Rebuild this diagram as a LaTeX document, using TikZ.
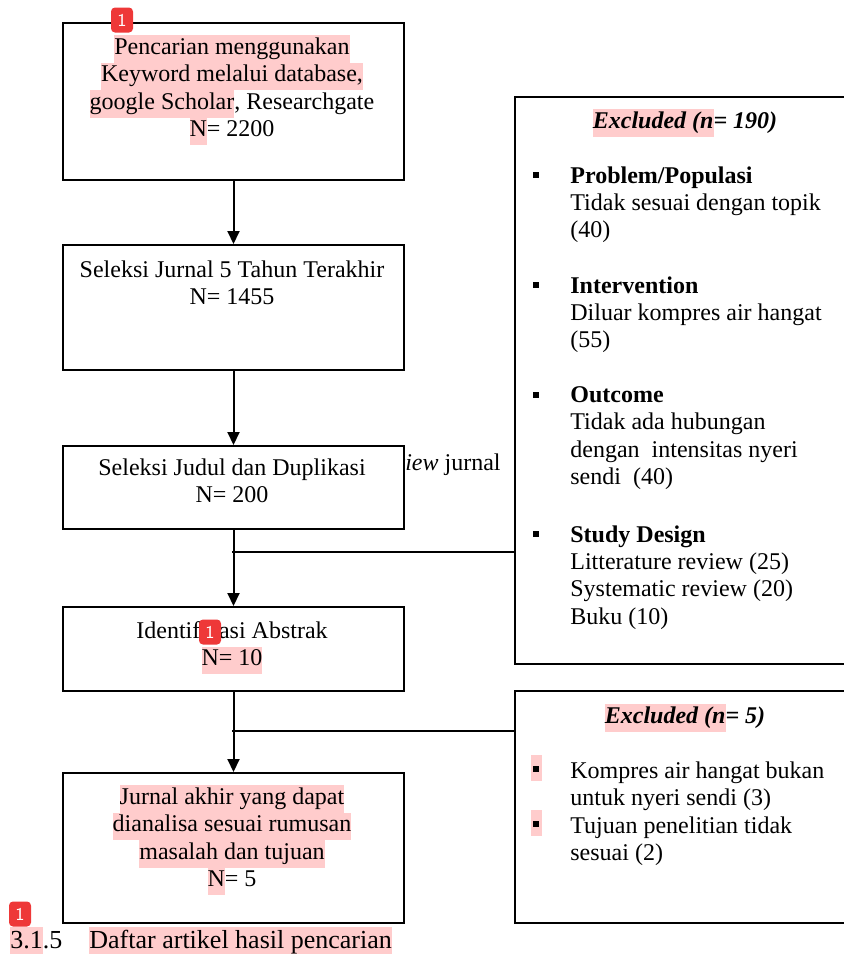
\documentclass[tikz,border=0pt]{standalone}
\usepackage{fontspec}
\setmainfont{Liberation Serif}
\usetikzlibrary{arrows.meta}

\definecolor{hlpink}{RGB}{255,204,204}
\definecolor{markred}{RGB}{238,56,56}
\newcommand{\hl}[1]{{\setlength{\fboxsep}{0pt}\colorbox{hlpink}{\strut #1}}}

\tikzset{
  box/.style={draw, line width=1pt, fill=white, inner sep=0pt, anchor=north west},
  txt/.style={align=center, inner sep=0pt, anchor=north, font=\fontsize{12}{13.7}\selectfont},
  item/.style={align=left, inner sep=0pt, anchor=north west, font=\fontsize{12}{13.7}\selectfont},
  bullet/.style={fill=black, inner sep=0pt, minimum size=3.4pt},
  hlmark/.style={fill=hlpink, inner sep=0pt, minimum width=5.5pt, minimum height=13pt},
  flow/.style={-{Triangle[width=6pt,length=6.5pt]}, line width=1pt},
  link/.style={line width=1pt},
  marker/.style={fill=markred, rounded corners=2pt, text=white, font=\sffamily\fontsize{9}{10}\selectfont,
    minimum width=11pt, minimum height=12.5pt, inner sep=0pt},
}

\begin{document}
\begin{tikzpicture}[x=0.5pt, y=-0.5pt]
  \clip (0,0) rectangle (844,954);
  % text partly hidden behind the third box
  \node[item, anchor=base east] (rest) at (501,470) {\textit{review} jurnal};

  % main column
  \node[box, minimum width=170.5pt, minimum height=78.5pt] (b1) at (62,22) {};
  \node[box, minimum width=170.5pt, minimum height=62.5pt] (b2) at (62,244) {};
  \node[box, minimum width=170.5pt, minimum height=41.5pt] (b3) at (62,445) {};
  \node[box, minimum width=170.5pt, minimum height=42pt] (b4) at (62,606) {};
  \node[box, minimum width=170.5pt, minimum height=75pt] (b5) at (62,772) {};

  \node[txt] (t1) at (232,35) {\hl{Pencarian menggunakan}\\\hl{Keyword melalui database,}\\\hl{google Scholar}, Researchgate\\\hl{N}= 2200};
  \node[txt] (t2) at (232,258) {\strut Seleksi Jurnal 5 Tahun Terakhir\\N= 1455};
  \node[txt] (t3) at (232,456) {\strut Seleksi Judul dan Duplikasi\\N= 200};
  \node[txt] (t4) at (232,619) {\strut Identifikasi Abstrak\\\hl{N= 10}};
  \node[txt] (t5) at (232,785) {\hl{Jurnal akhir yang dapat}\\\hl{dianalisa sesuai rumusan}\\\hl{masalah dan tujuan}\\\hl{N}= 5};

  % excluded boxes
  \node[box, minimum width=180pt, minimum height=283.5pt] (ex1) at (514,96) {};
  \node[box, minimum width=180pt, minimum height=116pt] (ex2) at (514,690) {};

  \node[txt] (h1) at (685,109) {\textbf{\textit{\hl{Excluded (n}= 190)}}};
  \node[bullet] (p1) at (536,175) {};
  \node[item] (i1) at (570,166) {\textbf{Problem/Populasi}\\Tidak sesuai dengan topik\\(40)};
  \node[bullet] (p2) at (536,285) {};
  \node[item] (i2) at (570,276) {\textbf{Intervention}\\Diluar kompres air hangat\\(55)};
  \node[bullet] (p3) at (536,395) {};
  \node[item] (i3) at (570,386) {\textbf{Outcome}\\Tidak ada hubungan\\dengan \ intensitas nyeri\\sendi \ (40)};
  \node[bullet] (p4) at (536,534) {};
  \node[item] (i4) at (570,525) {\textbf{Study Design}\\Litterature review (25)\\Systematic review (20)\\Buku (10)};

  \node[txt] (h2) at (685,704) {\textbf{\textit{\hl{Excluded (n}= 5)}}};
  \node[hlmark] (q1h) at (536,768) {};
  \node[bullet] (q1) at (536,769) {};
  \node[item] (k1) at (570,761) {Kompres air hangat bukan\\untuk nyeri sendi (3)};
  \node[hlmark] (q2h) at (536,823) {};
  \node[bullet] (q2) at (536,824) {};
  \node[item] (k2) at (570,816) {Tujuan penelitian tidak\\sesuai (2)};

  % connectors
  \draw[flow] (b1) -- (b2);
  \draw[flow] (b2) -- (b3);
  \draw[flow] (b3) -- (b4);
  \draw[flow] (b4) -- (b5);
  \coordinate (j1) at (232,552);
  \coordinate (j2) at (232,731);
  \draw[link] (j1) -- (j1 -| ex1.west);
  \draw[link] (j2) -- (j2 -| ex2.west);

  % caption
  \node[item, anchor=base west, font=\fontsize{13}{14.8}\selectfont] (capnum) at (10,948) {\hl{3.1}.5};
  \node[item, anchor=base west, font=\fontsize{13}{14.8}\selectfont] (captxt) at (89,948) {\hl{Daftar artikel hasil pencarian}};

  % comment markers
  \node[marker] (m1) at (122,20) {1};
  \node[marker] (m2) at (210,632) {1};
  \node[marker] (m3) at (20,914) {1};
\end{tikzpicture}
\end{document}
